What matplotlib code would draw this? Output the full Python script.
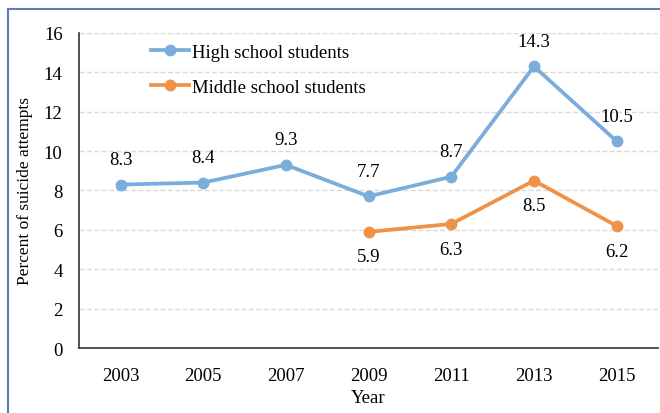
import matplotlib.pyplot as plt
from matplotlib.patches import Rectangle

years = ['2003', '2005', '2007', '2009', '2011', '2013', '2015']
high_school = [8.3, 8.4, 9.3, 7.7, 8.7, 14.3, 10.5]
middle_years = ['2009', '2011', '2013', '2015']
middle_school = [5.9, 6.3, 8.5, 6.2]

blue = '#7AADDB'
orange = '#EE9247'

plt.rcParams['font.family'] = ['Liberation Serif', 'DejaVu Serif']

fig = plt.figure(figsize=(6.6, 4.14), dpi=100)
ax = fig.add_axes([0.12, 0.157, 0.877, 0.761])

# frame around the whole chart (cut off at right and bottom)
fig.patches.append(Rectangle((0.012, -0.1), 1.2, 1.077,
                             transform=fig.transFigure, fill=False,
                             edgecolor='#5B7FB0', linewidth=1.5))

xh = list(range(len(years)))
xm = [years.index(y) for y in middle_years]

ax.plot(xh, high_school, color=blue, lw=2.7, marker='o', ms=7.5,
        label='High school students')
ax.plot(xm, middle_school, color=orange, lw=2.7, marker='o', ms=7.5,
        label='Middle school students')

for x, v in zip(xh, high_school):
    ax.annotate(f'{v}', (x, v), xytext=(0, 12), textcoords='offset points',
                ha='center', va='bottom', fontsize=13.5)
for x, v in zip(xm, middle_school):
    ax.annotate(f'{v}', (x, v), xytext=(0, -12), textcoords='offset points',
                ha='center', va='top', fontsize=13.5)

ax.set_xlim(-0.5, len(years) - 0.5)
ax.set_ylim(0, 16)
ax.set_yticks(range(0, 17, 2))
ax.set_xticks(xh)
ax.set_xticklabels(years)
ax.tick_params(labelsize=13.5, length=0)
ax.tick_params(axis='x', pad=14)
ax.tick_params(axis='y', pad=12)

ax.yaxis.grid(True, linestyle='--', color='#D9D9D9', lw=1)
ax.set_axisbelow(True)
for s in ['top', 'right']:
    ax.spines[s].set_visible(False)
for s in ['left', 'bottom']:
    ax.spines[s].set_color('#333333')
    ax.spines[s].set_linewidth(1.2)

ax.set_xlabel('Year', fontsize=13.5, labelpad=3)
ax.set_ylabel('Percent of suicide attempts', fontsize=12.5, labelpad=8)

ax.legend(loc='upper left', bbox_to_anchor=(0.095, 1.02), frameon=False,
          fontsize=13.5, handlelength=2.0, handletextpad=0.2, labelspacing=0.95)

fig.savefig('out.png', dpi=100)
